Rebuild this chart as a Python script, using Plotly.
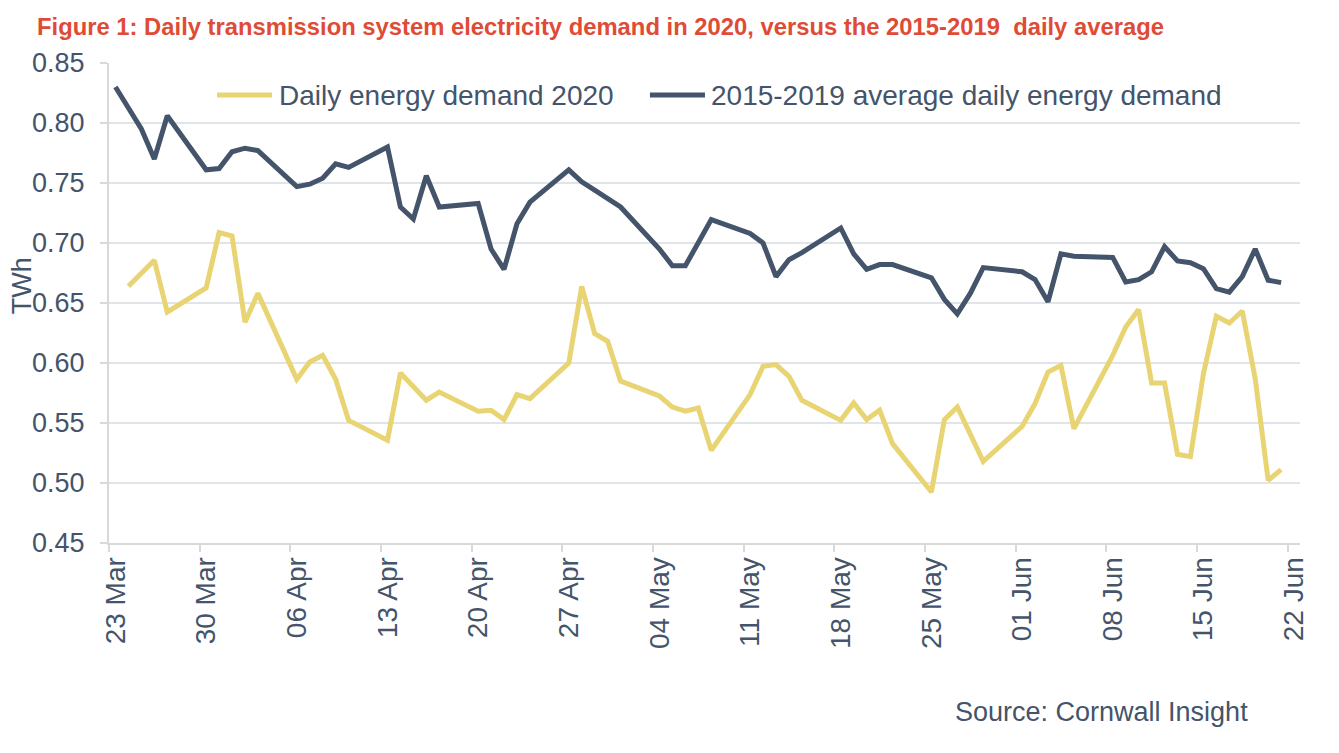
import pandas as pd
import plotly.graph_objects as go

# days counted from 23 Mar 2020, values in TWh
start = pd.Timestamp("2020-03-23")

avg_days = [0, 1, 2, 3, 4, 7, 8, 9, 10, 11, 14, 15, 16, 17, 18, 21, 22, 23, 24, 25,
            28, 29, 30, 31, 32, 35, 36, 37, 39, 42, 43, 44, 46, 49, 50, 51, 52, 53,
            56, 57, 58, 59, 60, 63, 64, 65, 66, 67, 70, 71, 72, 73, 74,
            77, 78, 79, 80, 81, 82, 83, 84, 85, 86, 87, 88, 89, 90]
avg_twh = [0.830, 0.813, 0.795, 0.770, 0.806, 0.761, 0.762, 0.776, 0.779, 0.777,
           0.747, 0.749, 0.754, 0.766, 0.763, 0.780, 0.730, 0.720, 0.756, 0.730,
           0.733, 0.695, 0.678, 0.716, 0.734, 0.761, 0.751, 0.744, 0.730, 0.695,
           0.681, 0.681, 0.7195, 0.708, 0.700, 0.672, 0.686, 0.692,
           0.7125, 0.691, 0.678, 0.682, 0.682, 0.671, 0.653, 0.641, 0.658, 0.6795,
           0.676, 0.6695, 0.651, 0.691, 0.689,
           0.688, 0.6675, 0.6695, 0.676, 0.697, 0.685, 0.6836, 0.6786, 0.662,
           0.659, 0.672, 0.695, 0.669, 0.667]

d2020_days = [1, 3, 4, 7, 8, 9, 10, 11, 14, 15, 16, 17, 18, 21, 22, 24, 25,
              28, 29, 30, 31, 32, 35, 36, 37, 38, 39, 42, 43, 44, 45, 46,
              49, 50, 51, 52, 53, 56, 57, 58, 59, 60, 63, 64, 65, 67,
              70, 71, 72, 73, 74, 77, 78, 79, 80, 81, 82, 83, 84, 85, 86, 87, 88, 89, 90]
d2020_twh = [0.664, 0.6856, 0.6425, 0.6625, 0.7087, 0.7058, 0.634, 0.658,
             0.5864, 0.6008, 0.6064, 0.5864, 0.5522, 0.5356, 0.5917, 0.569, 0.5758,
             0.5598, 0.5606, 0.5528, 0.5737, 0.5703, 0.600, 0.6639, 0.6245, 0.6181,
             0.585, 0.5725, 0.5633, 0.5598, 0.5625, 0.5272,
             0.5737, 0.5972, 0.5987, 0.5889, 0.5689, 0.5522, 0.5667, 0.5528, 0.5606,
             0.5328, 0.4925, 0.5528, 0.5633, 0.518,
             0.5472, 0.5662, 0.5925, 0.598, 0.5453, 0.6064, 0.630, 0.6445, 0.5833,
             0.5833, 0.5239, 0.522, 0.5911, 0.6389, 0.6333, 0.6433, 0.587, 0.5023, 0.5111]

tick_labels = ["23 Mar", "30 Mar", "06 Apr", "13 Apr", "20 Apr", "27 Apr", "04 May",
               "11 May", "18 May", "25 May", "01 Jun", "08 Jun", "15 Jun", "22 Jun"]

series_names = ["Daily energy demand 2020", "2015-2019 average daily energy demand"]

avg_dates = start + pd.to_timedelta(avg_days, unit="D")
d2020_dates = start + pd.to_timedelta(d2020_days, unit="D")
# labels sit on the day, tick marks on the edge of each day slot (excel style)
label_pos = [start + pd.Timedelta(days=7 * i) for i in range(len(tick_labels))]
mark_pos = [p - pd.Timedelta(hours=12) for p in label_pos]

dark = "#44546A"
gold = "#E9D473"
grid = "#E1E5EA"
axis_col = "#D9D9D9"
font = "Liberation Sans, Arial, sans-serif"

fig = go.Figure()
fig.add_trace(go.Scatter(x=d2020_dates, y=d2020_twh, mode="lines", name=series_names[0],
                         line=dict(color=gold, width=5)))
fig.add_trace(go.Scatter(x=avg_dates, y=avg_twh, mode="lines", name=series_names[1],
                         line=dict(color=dark, width=5)))

# page body adds 8px offset, margins compensate
fig.update_layout(
    width=1339, height=753,
    margin=dict(l=101, r=47, t=55, b=218),
    paper_bgcolor="white", plot_bgcolor="white",
    font=dict(family=font, color=dark, size=27),
    title=dict(text="Figure 1: Daily transmission system electricity demand in 2020, versus the 2015-2019  daily average",
               x=29 / 1339, xanchor="left", xref="container",
               y=1 - 19 / 753, yanchor="middle", yref="container",
               font=dict(family=font, size=23.8, color="#E04B36", weight="bold")),
    showlegend=False,
)

fig.update_xaxes(
    type="date",
    range=[start - pd.Timedelta(hours=12), pd.Timestamp("2020-06-22 11:00")],
    tickvals=label_pos, ticktext=tick_labels, tickangle=-90,
    tickfont=dict(size=28, color=dark),
    showgrid=False, showline=True, linecolor=axis_col, linewidth=2,
    ticks="outside", ticklen=1, tickcolor="rgba(0,0,0,0)",
    minor=dict(tickvals=mark_pos, ticks="outside", ticklen=7, tickcolor=axis_col,
               tickwidth=2, showgrid=False),
    zeroline=False,
)
fig.update_yaxes(
    range=[0.45, 0.85], dtick=0.05, tick0=0.45, tickformat=".2f",
    tickfont=dict(size=27, color=dark), ticklabelstandoff=10,
    showgrid=True, gridcolor=grid, gridwidth=2,
    showline=True, linecolor=axis_col, linewidth=2,
    ticks="outside", ticklen=7, tickcolor=axis_col, tickwidth=2,
    zeroline=False,
)

# legend drawn by hand so the key lines are as long as in the original
legend_items = [(0.0907, 0.1369, 0.1411, gold), (0.4542, 0.5004, 0.5038, dark)]
for name, (x0, x1, xt, col) in zip(series_names, legend_items):
    fig.add_shape(type="line", xref="paper", yref="paper", x0=x0, x1=x1, y0=0.9333, y1=0.9333,
                  line=dict(color=col, width=5))
    fig.add_annotation(text=name, x=xt, y=0.9333, xref="paper", yref="paper",
                       xanchor="left", yanchor="middle", showarrow=False,
                       font=dict(size=28, color=dark))

fig.add_annotation(text="TWh", textangle=-90, x=-0.073, y=0.535, xref="paper", yref="paper",
                   xanchor="center", yanchor="middle",
                   showarrow=False, font=dict(size=27, color=dark))
fig.add_annotation(text="Source: Cornwall Insight", x=0.958, y=-0.352, xref="paper", yref="paper",
                   xanchor="right", yanchor="middle", showarrow=False,
                   font=dict(size=27, color=dark))

fig.write_html("out.html")
